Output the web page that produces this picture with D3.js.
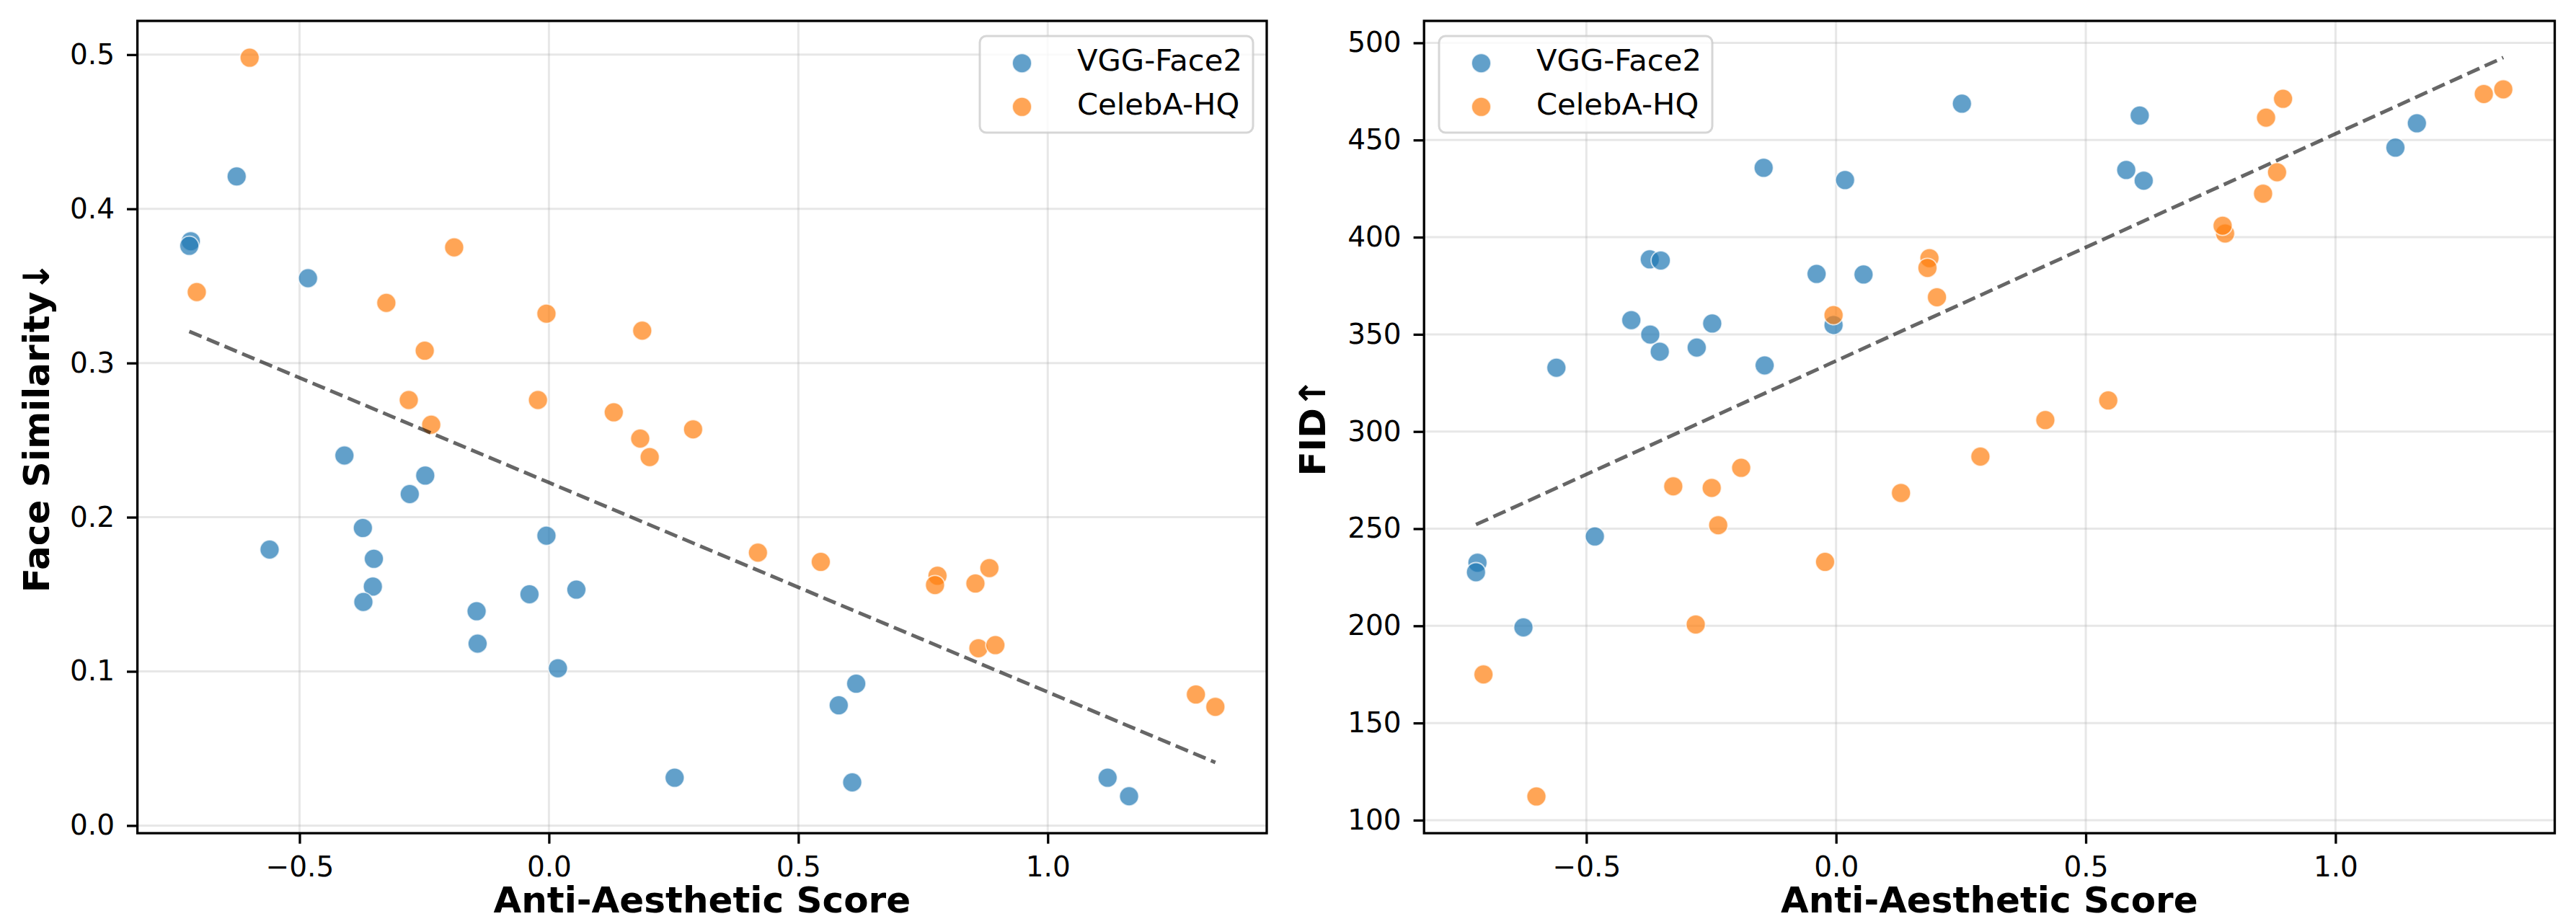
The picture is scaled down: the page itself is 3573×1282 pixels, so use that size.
<!DOCTYPE html>
<html>
<head>
<meta charset="utf-8">
<script src="https://cdn.jsdelivr.net/npm/d3@7"></script>
<style>
  html, body { margin: 0; padding: 0; background: #fff; }
  svg { display: block; }
  text { font-family: "DejaVu Sans", sans-serif; }
</style>
</head>
<body>
<svg id="chart" width="3573" height="1282"></svg>
<script>
// ---------------- data ----------------
const seriesNames = ["VGG-Face2", "CelebA-HQ"];
const seriesColors = ["#1f77b4", "#ff7f0e"];

const vggX   = [-0.626, -0.718, -0.721, -0.483, -0.410, -0.248, -0.279, -0.373, -0.560, -0.351, -0.353, -0.372, -0.005, -0.039, 0.055, -0.145, -0.143, 0.018, 0.616, 0.581, 0.252, 0.608, 1.120, 1.163];
const vggSim = [0.421, 0.379, 0.376, 0.355, 0.240, 0.227, 0.215, 0.193, 0.179, 0.173, 0.155, 0.145, 0.188, 0.150, 0.153, 0.139, 0.118, 0.102, 0.092, 0.078, 0.031, 0.028, 0.031, 0.019];
const vggFid = [199.2, 232.5, 227.6, 246.0, 357.3, 355.6, 343.2, 388.6, 332.8, 388.0, 341.1, 349.9, 354.8, 381.1, 380.8, 435.7, 334.0, 429.4, 429.1, 434.6, 468.7, 462.6, 446.1, 458.6];

const celebX   = [-0.600, -0.706, -0.190, -0.326, -0.005, -0.249, -0.281, -0.022, -0.236, 0.130, 0.187, 0.183, 0.202, 0.289, 0.419, 0.545, 0.779, 0.774, 0.855, 0.883, 0.861, 0.895, 1.297, 1.336];
const celebSim = [0.498, 0.346, 0.375, 0.339, 0.332, 0.308, 0.276, 0.276, 0.260, 0.268, 0.321, 0.251, 0.239, 0.257, 0.177, 0.171, 0.162, 0.156, 0.157, 0.167, 0.115, 0.117, 0.085, 0.077];
const celebFid = [112.2, 175.0, 281.3, 271.8, 359.9, 271.0, 200.7, 232.9, 251.8, 268.4, 389.2, 384.2, 369.1, 287.1, 305.9, 316.0, 401.9, 405.9, 422.4, 433.4, 461.5, 471.2, 473.7, 476.1];

const xTicks = [-0.5, 0.0, 0.5, 1.0];
const simTicks = [0.0, 0.1, 0.2, 0.3, 0.4, 0.5];
const fidTicks = [100, 150, 200, 250, 300, 350, 400, 450, 500];

const xLabel = "Anti-Aesthetic Score";
const simLabel = "Face Similarity\u2193";
const fidLabel = "FID\u2191";

// ---------------- layout ----------------
const svg = d3.select("#chart");
const plotTop = 29, plotBottom = 1156;

const panels = [
  { left: 190.6, right: 1757, yVals: [vggSim, celebSim], yDomain: [-0.00496, 0.5219], ticks: simTicks, fmt: d3.format(".1f"),
    yLabel: simLabel, yLabelX: 68.3, legendX: 1359 },
  { left: 1975.2, right: 3543.5, yVals: [vggFid, celebFid], yDomain: [93.3, 511.3], ticks: fidTicks, fmt: d3.format("d"),
    yLabel: fidLabel, yLabelX: 1838.3, legendX: 1996 }
];
const xSeries = [vggX, celebX];

function linreg(xs, ys) {
  const n = xs.length;
  const mx = d3.mean(xs), my = d3.mean(ys);
  let sxy = 0, sxx = 0;
  for (let i = 0; i < n; i++) { sxy += (xs[i] - mx) * (ys[i] - my); sxx += (xs[i] - mx) ** 2; }
  const b = sxy / sxx;
  return { b, a: my - b * mx };
}

panels.forEach(p => {
  const x = d3.scaleLinear().domain([-0.825, 1.439]).range([p.left, p.right]);
  const y = d3.scaleLinear().domain(p.yDomain).range([plotBottom, plotTop]);
  const g = svg.append("g");

  // grid
  g.append("g").selectAll("line").data(xTicks).join("line")
    .attr("x1", d => x(d)).attr("x2", d => x(d)).attr("y1", plotTop).attr("y2", plotBottom)
    .attr("stroke", "#b0b0b0").attr("stroke-opacity", 0.3).attr("stroke-width", 3);
  g.append("g").selectAll("line").data(p.ticks).join("line")
    .attr("x1", p.left).attr("x2", p.right).attr("y1", d => y(d)).attr("y2", d => y(d))
    .attr("stroke", "#b0b0b0").attr("stroke-opacity", 0.3).attr("stroke-width", 3);

  // points
  [0, 1].forEach(s => {
    const pts = xSeries[s].map((v, i) => [v, p.yVals[s][i]]);
    g.append("g").selectAll("circle").data(pts).join("circle")
      .attr("cx", d => x(d[0])).attr("cy", d => y(d[1])).attr("r", 13.4)
      .attr("fill", seriesColors[s]).attr("fill-opacity", 0.7)
      .attr("stroke", "#ffffff").attr("stroke-opacity", 0.7).attr("stroke-width", 1.8);
  });

  // regression line over all points
  const allX = vggX.concat(celebX), allY = p.yVals[0].concat(p.yVals[1]);
  const r = linreg(allX, allY);
  const ex = d3.extent(allX);
  g.append("path")
    .attr("d", d3.line().x(d => x(d)).y(d => y(r.a + r.b * d))(ex))
    .attr("fill", "none").attr("stroke", "#000").attr("stroke-opacity", 0.6)
    .attr("stroke-width", 5).attr("stroke-dasharray", "18.5,8");

  // axes
  const ax = g.append("g").attr("transform", `translate(0,${plotBottom})`)
    .call(d3.axisBottom(x).tickValues(xTicks).tickFormat(d3.format(".1f")).tickSize(14.6).tickPadding(18));
  const ay = g.append("g").attr("transform", `translate(${p.left},0)`)
    .call(d3.axisLeft(y).tickValues(p.ticks).tickFormat(p.fmt).tickSize(14.6).tickPadding(17));
  [ax, ay].forEach(a => {
    a.select(".domain").remove();
    a.selectAll(".tick line").attr("stroke", "#000").attr("stroke-width", 3.3);
    a.selectAll(".tick text").attr("fill", "#000").style("font-family", "DejaVu Sans").style("font-size", "39px");
  });

  // frame
  g.append("rect").attr("x", p.left).attr("y", plotTop).attr("width", p.right - p.left).attr("height", plotBottom - plotTop)
    .attr("fill", "none").attr("stroke", "#000").attr("stroke-width", 3.3);

  // labels
  g.append("text").attr("x", (p.left + p.right) / 2).attr("y", 1266).attr("text-anchor", "middle")
    .style("font-size", "50px").style("font-weight", "bold").text(xLabel);
  g.append("text").attr("transform", `translate(${p.yLabelX},${(plotTop + plotBottom) / 2}) rotate(-90)`)
    .attr("text-anchor", "middle").style("font-size", "50px").style("font-weight", "bold").text(p.yLabel);

  // legend
  const lg = g.append("g").attr("transform", `translate(${p.legendX},50)`);
  lg.append("rect").attr("width", 379).attr("height", 134).attr("rx", 9)
    .attr("fill", "#fff").attr("fill-opacity", 0.8).attr("stroke", "#cccccc").attr("stroke-opacity", 0.8).attr("stroke-width", 3);
  seriesNames.forEach((nm, i) => {
    lg.append("circle").attr("cx", 58.5).attr("cy", 37.7 + i * 60.6).attr("r", 13.4)
      .attr("fill", seriesColors[i]).attr("fill-opacity", 0.7)
      .attr("stroke", "#fff").attr("stroke-opacity", 0.7).attr("stroke-width", 1.8);
    lg.append("text").attr("x", 135).attr("y", 48.3 + i * 60.6).style("font-size", "41.7px").text(nm);
  });
});
</script>
</body>
</html>
